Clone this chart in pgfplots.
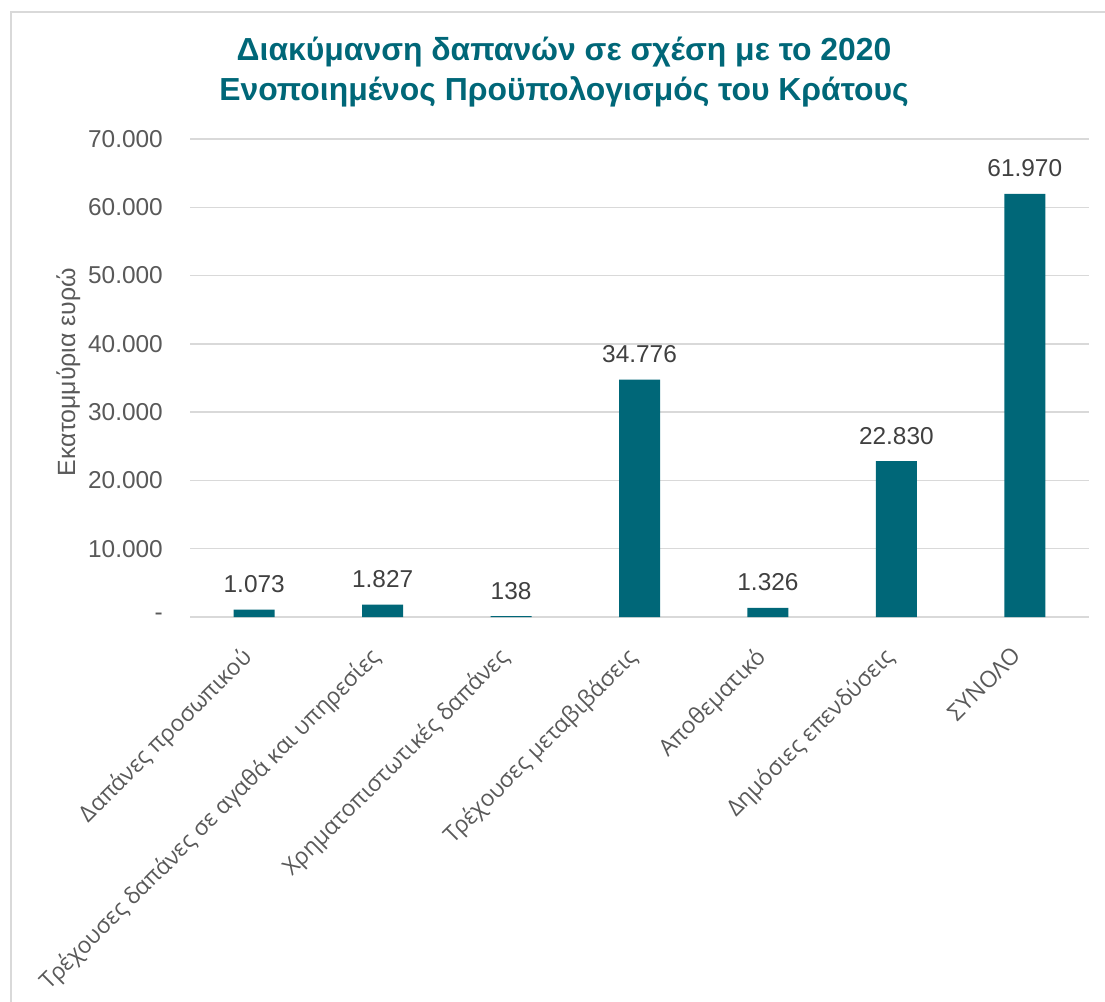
\documentclass[border=0pt]{standalone}
\usepackage{pgfplots}
\pgfplotsset{compat=1.18}
\usepackage{fontspec}
\setmainfont{Liberation Sans}
\newfontfamily\xlab{Open Sans}

\definecolor{barcol}{HTML}{006778}
\definecolor{gridgray}{HTML}{D9D9D9}
\definecolor{tickgray}{HTML}{595959}
\definecolor{labgray}{HTML}{404040}

\begin{document}
\begin{tikzpicture}[x=1bp,y=1bp]
	\useasboundingbox (0,0) rectangle (1105,-1002);
	% frame of the chart area
	\draw[gridgray, line width=1.5bp] (11,-1020) -- (11,-12) -- (1120,-12);
	\node[anchor=base, font=\bfseries\fontsize{32}{38}\selectfont, text=barcol] at (564,-60) {Διακύμανση δαπανών σε σχέση με το 2020};
	\node[anchor=base, font=\bfseries\fontsize{32}{38}\selectfont, text=barcol] at (564,-100) {Ενοποιημένος Προϋπολογισμός του Κράτους};
	\begin{axis}[
	at={(190bp,-617bp)},
	anchor=south west,
	scale only axis,
	width=899bp,
	height=478bp,
	xmin=-0.5, xmax=6.5,
	ymin=0, ymax=70000,
	scaled y ticks=false,
	ybar,
	bar width=41bp,
	axis line style={draw=none},
	tick style={draw=none},
	ymajorgrids,
	grid style={gridgray, line width=1.5bp},
	ytick={0,10000,...,70000},
	yticklabels={-,10.000,20.000,30.000,40.000,50.000,60.000,70.000},
	yticklabel style={font=\fontsize{24.5}{29}\selectfont, text=tickgray, inner sep=0pt, anchor=east, xshift=-27bp},
	xtick={0,...,6},
	xticklabels={Δαπάνες προσωπικού, Τρέχουσες δαπάνες σε αγαθά και υπηρεσίες, Χρηματοπιστωτικές δαπάνες, Τρέχουσες μεταβιβάσεις, Αποθεματικό, Δημόσιες επενδύσεις, ΣΥΝΟΛΟ},
	xticklabel style={font=\xlab\fontsize{23}{27}\selectfont, text=tickgray, inner sep=0pt, xshift=-14bp, yshift=-24bp, rotate=45, anchor=north east},
	ylabel={Εκατομμύρια ευρώ},
	every axis y label/.style={at={(axis description cs:-0.1279,0.5126)}, rotate=90, anchor=base, font=\fontsize{25}{30}\selectfont, text=tickgray},
	nodes near coords={\pgfmathprintnumber[fixed,precision=0,1000 sep={.},assume math mode=true]{\pgfplotspointmeta}},
	every node near coord/.append style={font=\fontsize{24.5}{29}\selectfont, text=labgray, anchor=base, inner sep=0pt, yshift=17bp},
	]
	\addplot[fill=barcol, draw=none] coordinates {(0,1073) (1,1827) (2,138) (3,34776) (4,1326) (5,22830) (6,61970)};
	\end{axis}
\end{tikzpicture}
\end{document}
